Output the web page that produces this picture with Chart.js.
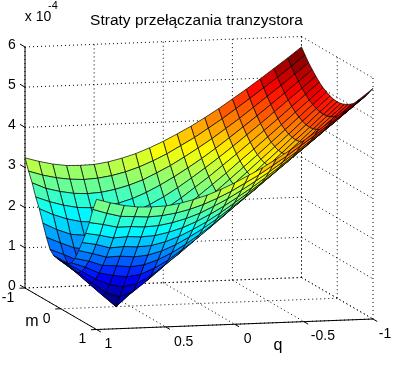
<!DOCTYPE html>
<html>
<head>
<meta charset="utf-8">
<style>
  html, body { margin: 0; padding: 0; background: #fff; }
  #wrap { width: 393px; height: 370px; }
</style>
<script src="https://cdn.jsdelivr.net/npm/chart.js@4/dist/chart.umd.min.js"></script>
</head>
<body>
<div id="wrap"><canvas id="chart" width="393" height="370"></canvas></div>
<script>
const qValues = [-1, -0.9, -0.8, -0.7, -0.6, -0.5, -0.4, -0.3, -0.2, -0.1, 0, 0.1, 0.2, 0.3, 0.4, 0.5, 0.6, 0.7, 0.8, 0.9, 1]
const mValues = [-1, -0.9, -0.8, -0.7, -0.6, -0.5, -0.4, -0.3, -0.2, -0.1, 0, 0.1, 0.2, 0.3, 0.4, 0.5, 0.6, 0.7, 0.8, 0.9, 1]

// straty, in units of 1e-4: one row per q, one column per m
const losses = [
  [5.74, 5.59, 5.45, 5.33, 5.22, 5.12, 5.04, 4.98, 4.93, 4.90, 4.89, 4.90, 4.93, 4.98, 5.04, 5.12, 5.22, 5.33, 5.45, 5.59, 5.74],
  [5.48, 5.32, 5.18, 5.05, 4.93, 4.83, 4.74, 4.68, 4.63, 4.60, 4.59, 4.60, 4.63, 4.68, 4.74, 4.83, 4.93, 5.05, 5.18, 5.32, 5.48],
  [5.23, 5.06, 4.91, 4.77, 4.65, 4.54, 4.45, 4.38, 4.33, 4.29, 4.28, 4.29, 4.33, 4.38, 4.45, 4.54, 4.65, 4.77, 4.91, 5.06, 5.23],
  [4.98, 4.81, 4.65, 4.50, 4.37, 4.25, 4.15, 4.08, 4.02, 3.99, 3.98, 3.99, 4.02, 4.08, 4.15, 4.25, 4.37, 4.50, 4.65, 4.81, 4.98],
  [4.74, 4.56, 4.39, 4.23, 4.09, 3.97, 3.86, 3.78, 3.72, 3.68, 3.67, 3.68, 3.72, 3.78, 3.86, 3.97, 4.09, 4.23, 4.39, 4.56, 4.74],
  [4.51, 4.32, 4.13, 3.97, 3.82, 3.69, 3.57, 3.48, 3.42, 3.38, 3.37, 3.38, 3.42, 3.48, 3.57, 3.69, 3.82, 3.97, 4.13, 4.32, 4.51],
  [4.28, 4.08, 3.89, 3.71, 3.55, 3.41, 3.29, 3.19, 3.12, 3.07, 3.06, 3.07, 3.12, 3.19, 3.29, 3.41, 3.55, 3.71, 3.89, 4.08, 4.28],
  [4.07, 3.86, 3.65, 3.46, 3.29, 3.14, 3.00, 2.90, 2.82, 2.77, 2.75, 2.77, 2.82, 2.90, 3.00, 3.14, 3.29, 3.46, 3.65, 3.86, 4.07],
  [3.87, 3.64, 3.43, 3.22, 3.04, 2.87, 2.73, 2.61, 2.52, 2.47, 2.45, 2.47, 2.52, 2.61, 2.73, 2.87, 3.04, 3.22, 3.43, 3.64, 3.87],
  [3.69, 3.45, 3.22, 3.00, 2.80, 2.62, 2.46, 2.32, 2.22, 2.16, 2.14, 2.16, 2.22, 2.32, 2.46, 2.62, 2.80, 3.00, 3.22, 3.45, 3.69],
  [3.52, 3.26, 3.02, 2.79, 2.57, 2.37, 2.19, 2.04, 1.93, 1.86, 1.84, 1.86, 1.93, 2.04, 2.19, 2.37, 2.57, 2.79, 3.02, 3.26, 3.52],
  [3.37, 3.10, 2.85, 2.60, 2.36, 2.14, 1.94, 1.77, 1.64, 1.56, 1.53, 1.56, 1.64, 1.77, 1.94, 2.14, 2.36, 2.60, 2.85, 3.10, 3.37],
  [3.24, 2.96, 2.69, 2.43, 2.18, 1.94, 1.71, 1.52, 1.36, 1.26, 1.22, 1.26, 1.36, 1.52, 1.71, 1.94, 2.18, 2.43, 2.69, 2.96, 3.24],
  [3.14, 2.85, 2.57, 2.29, 2.02, 1.76, 1.51, 1.28, 1.10, 0.96, 0.92, 0.96, 1.10, 1.28, 1.51, 1.76, 2.02, 2.29, 2.57, 2.85, 3.14],
  [3.06, 2.77, 2.48, 2.19, 1.90, 1.62, 1.35, 1.09, 0.85, 0.68, 0.61, 0.68, 0.85, 1.09, 1.35, 1.62, 1.90, 2.19, 2.48, 2.77, 3.06],
  [3.01, 2.72, 2.42, 2.12, 1.82, 1.53, 1.24, 0.95, 0.67, 0.42, 0.30, 0.42, 0.67, 0.95, 1.24, 1.53, 1.82, 2.12, 2.42, 2.72, 3.01],
  [3.00, 2.70, 2.40, 2.10, 1.80, 1.50, 1.20, 0.90, 0.60, 0.30, 0.00, 0.30, 0.60, 0.90, 1.20, 1.50, 1.80, 2.10, 2.40, 2.70, 3.00],
  [3.01, 2.72, 2.42, 2.12, 1.82, 1.53, 1.24, 0.95, 0.67, 0.42, 0.30, 0.42, 0.67, 0.95, 1.24, 1.53, 1.82, 2.12, 2.42, 2.72, 3.01],
  [3.06, 2.77, 2.48, 2.19, 1.90, 1.57, 1.28, 1.02, 0.82, 0.67, 0.61, 0.67, 0.82, 1.02, 1.26, 1.52, 1.80, 2.10, 2.42, 2.74, 3.06],
  [3.14, 2.85, 2.57, 2.29, 2.02, 1.70, 1.42, 1.18, 1.02, 0.94, 0.92, 0.94, 1.02, 1.18, 1.38, 1.62, 1.90, 2.18, 2.50, 2.83, 3.14],
  [3.24, 2.96, 2.72, 2.42, 2.18, 1.87, 1.57, 1.32, 1.22, 1.20, 1.20, 1.20, 1.22, 1.30, 1.46, 1.71, 1.96, 2.24, 2.56, 2.94, 3.24],
]

const qTicks = [1, 0.5, 0, -0.5, -1]
const qTickLabels = ['1', '0.5', '0', '-0.5', '-1']
const qLabelShift = [12, 18, 13, 19, 12]
const mTicks = [-1, 0, 1]
const mTickLabels = ['-1', '0', '1']
const mLabelShift = [[-17, 10], [-14, 10], [-14, 10]]
const zTicks = [0, 1, 2, 3, 4, 5, 6]
const zTickLabels = ['0', '1', '2', '3', '4', '5', '6']

const TOP = 30 // height the title takes, the y scale starts there
const FONT = '"Liberation Sans", Arial, sans-serif'

// the view of the box: screen position of a (q, m, z) point
function project(q, m, z) {
  return {
    x: 199 - 138.25 * q + 35.75 * m,
    y: 303.5 + 5.25 * q + 20.75 * m - 40.17 * z,
  }
}

// matlab jet, 64 steps
function jet(z) {
  const zMax = 5.74
  const k = Math.min(63, Math.floor((z / zMax) * 64))
  const t = (k + 0.5) / 64
  const ch = (c) => Math.round(255 * Math.max(0, Math.min(1, 1.5 - Math.abs(4 * t - c))))
  return `rgb(${ch(3)},${ch(2)},${ch(1)})`
}

function cellDataset(i, j) {
  const corners = [[i, j], [i + 1, j], [i + 1, j + 1], [i, j + 1], [i, j]]
  return {
    data: corners.map(([a, b]) => project(qValues[a], mValues[b], losses[a][b])),
    showLine: true,
    fill: 'shape',
    backgroundColor: jet(losses[i][j]),
    borderColor: '#000',
    borderWidth: 0.7,
    pointRadius: 0,
    tension: 0,
    clip: false,
  }
}

function lineDataset(from, to, dotted) {
  return {
    data: [project(...from), project(...to)],
    showLine: true,
    fill: false,
    borderColor: '#000',
    borderWidth: 1,
    borderDash: dotted ? [1, 3] : [],
    pointRadius: 0,
    tension: 0,
    clip: false,
  }
}

// first dataset ends up on top, so the nearest cells go first
const datasets = []
for (let j = mValues.length - 2; j >= 0; j--) {
  for (let i = qValues.length - 2; i >= 0; i--) {
    datasets.push(cellDataset(i, j))
  }
}

// axes and ticks
datasets.push(lineDataset([1, -1, 0], [1, -1, 6], false))
datasets.push(lineDataset([1, -1, 0], [1, 1, 0], false))
datasets.push(lineDataset([1, 1, 0], [-1, 1, 0], false))
zTicks.forEach((z) => datasets.push(lineDataset([1, -1, z], [1, -1.14, z], false)))
qTicks.forEach((q) => datasets.push(lineDataset([q, 1, 0], [q, 1.12, 0], false)))
mTicks.forEach((m) => datasets.push(lineDataset([1, m, 0], [1.04, m, 0], false)))

// dotted box grid
zTicks.forEach((z) => {
  datasets.push(lineDataset([1, -1, z], [-1, -1, z], true))
  datasets.push(lineDataset([-1, -1, z], [-1, 1, z], true))
})
qTicks.forEach((q) => {
  datasets.push(lineDataset([q, -1, 0], [q, -1, 6], true))
  datasets.push(lineDataset([q, -1, 0], [q, 1, 0], true))
})
mTicks.forEach((m) => {
  datasets.push(lineDataset([-1, m, 0], [-1, m, 6], true))
  datasets.push(lineDataset([-1, m, 0], [1, m, 0], true))
})

function text(ctx, str, x, y, size) {
  ctx.font = `${size}px ${FONT}`
  ctx.fillText(str, x, y)
}

const axisLabels = {
  id: 'axisLabels',
  afterDraw(chart) {
    const ctx = chart.ctx
    const sx = chart.scales.x
    const sy = chart.scales.y
    const at = (p, dx, dy) => [sx.getPixelForValue(p.x) + dx, sy.getPixelForValue(p.y) + dy]
    ctx.save()
    ctx.fillStyle = '#000'
    ctx.textAlign = 'center'
    ctx.textBaseline = 'middle'
    zTicks.forEach((z, i) => text(ctx, zTickLabels[i], ...at(project(1, -1, z), -13, -2), 14))
    qTicks.forEach((q, i) => text(ctx, qTickLabels[i], ...at(project(q, 1, 0), qLabelShift[i], 15), 14))
    mTicks.forEach((m, i) => text(ctx, mTickLabels[i], ...at(project(1, m, 0), ...mLabelShift[i]), 14))
    text(ctx, 'm', 32, 322, 16)
    text(ctx, 'q', 278, 346, 16)
    text(ctx, 'x 10', 38, 17, 14)
    text(ctx, '-4', 53, 6, 11)
    ctx.restore()
  },
}

new Chart(document.getElementById('chart'), {
  type: 'scatter',
  data: { datasets },
  plugins: [axisLabels],
  options: {
    responsive: false,
    animation: false,
    layout: { padding: 0 },
    plugins: {
      legend: { display: false },
      tooltip: { enabled: false },
      title: {
        display: true,
        text: 'Straty przełączania tranzystora',
        color: '#000',
        font: { family: FONT, size: 15.5, weight: 'normal', lineHeight: 1.2 },
        padding: { top: 11, bottom: 0.4 },
      },
    },
    scales: {
      x: { type: 'linear', min: 0, max: 393, display: false },
      y: { type: 'linear', min: TOP, max: 370, reverse: true, display: false },
    },
  },
})
</script>
</body>
</html>
